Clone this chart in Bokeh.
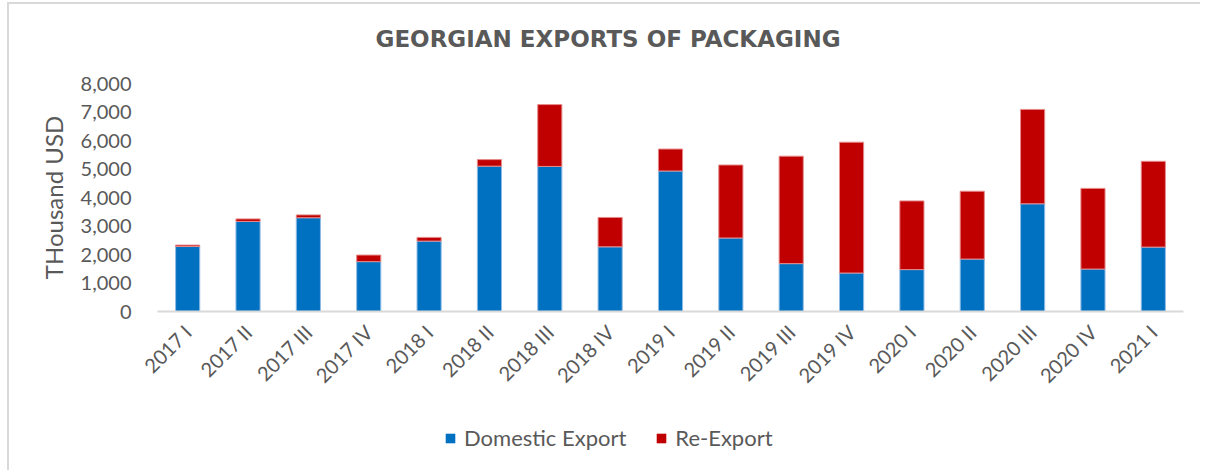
from bokeh.plotting import figure
from bokeh.layouts import column
from bokeh.models import ColumnDataSource, Legend, LegendItem, NumeralTickFormatter, FixedTicker, Title
from bokeh.embed import file_html
from bokeh.resources import INLINE
import math

quarters = ["2017 I", "2017 II", "2017 III", "2017 IV", "2018 I", "2018 II", "2018 III", "2018 IV",
            "2019 I", "2019 II", "2019 III", "2019 IV", "2020 I", "2020 II", "2020 III", "2020 IV", "2021 I"]
domestic = [2280, 3160, 3290, 1750, 2470, 5100, 5090, 2270, 4930, 2580, 1680, 1350, 1470, 1840, 3780, 1490, 2260]
reexport = [50, 90, 100, 230, 130, 230, 2170, 1030, 770, 2560, 3770, 4590, 2410, 2380, 3310, 2830, 3010]
series_labels = ["Domestic Export", "Re-Export"]
series_colors = ["#0070C0", "#C00000"]
edge_colors = ["#8fbce6", "#e68a8a"]

src = ColumnDataSource(dict(q=quarters, domestic=domestic, reexport=reexport))

FONT = "Lato"
GREY = "#595959"

p = figure(x_range=quarters, y_range=(0, 8000), width=1191, height=401,
           output_backend="svg", toolbar_location=None,
           min_border_left=148, min_border_right=17, min_border_top=79, min_border_bottom=94)

r = p.vbar_stack(["domestic", "reexport"], x="q", width=0.4, source=src,
                 color=series_colors, line_color=edge_colors, line_width=1)

# title: a blank spacer title sits next to the frame, the real title above it
p.title = None
p.add_layout(Title(text=" ", text_font="DejaVu Sans", text_font_size="10px", standoff=14), "above")
p.add_layout(Title(text="GEORGIAN EXPORTS OF PACKAGING", align="left", offset=218,
                   vertical_align="bottom", standoff=10,
                   text_font="DejaVu Sans", text_font_size="23px", text_font_style="bold",
                   text_color=GREY), "above")

p.xgrid.grid_line_color = None
p.ygrid.grid_line_color = None
p.outline_line_color = None

p.yaxis.ticker = FixedTicker(ticks=list(range(0, 8001, 1000)))
p.yaxis.formatter = NumeralTickFormatter(format="0,0")
p.yaxis.axis_line_color = None
p.yaxis.major_tick_line_color = None
p.yaxis.minor_tick_line_color = None
p.yaxis.major_label_text_font = FONT
p.yaxis.major_label_text_font_size = "20px"
p.yaxis.major_label_text_color = GREY
p.yaxis.major_label_standoff = 20
p.yaxis.axis_label = "THousand USD"
p.yaxis.axis_label_text_font = FONT
p.yaxis.axis_label_text_font_size = "24px"
p.yaxis.axis_label_text_font_style = "normal"
p.yaxis.axis_label_text_color = GREY
p.yaxis.axis_label_standoff = 10

p.xaxis.axis_line_color = "#d9d9d9"
p.xaxis.axis_line_width = 2
p.xaxis.major_tick_line_color = None
p.xaxis.minor_tick_line_color = None
p.xaxis.major_label_orientation = math.pi / 4
p.xaxis.major_label_text_font = FONT
p.xaxis.major_label_text_font_size = "20px"
p.xaxis.major_label_text_color = GREY
p.xaxis.major_label_standoff = 11

# legend strip underneath the chart (zero-size proxy glyphs carry the key colours)
lg = figure(width=1191, height=65, x_range=(0, 1), y_range=(0, 1),
            output_backend="svg", toolbar_location=None,
            x_axis_type=None, y_axis_type=None,
            min_border_left=0, min_border_right=0, min_border_top=0, min_border_bottom=0)
lg.outline_line_color = None
lg.xgrid.grid_line_color = None
lg.ygrid.grid_line_color = None
key_renderers = [lg.vbar(x=[-1], top=[0], bottom=[0], width=0, fill_color=c, line_color=c, line_width=0)
                 for c in series_colors]

legend = Legend(items=[LegendItem(label=lab, renderers=[kr]) for lab, kr in zip(series_labels, key_renderers)],
                orientation="horizontal", location=(287, 19),
                label_text_font=FONT, label_text_font_size="22px", label_text_color=GREY,
                label_standoff=8, glyph_width=12, glyph_height=12, spacing=29,
                border_line_color=None, background_fill_alpha=0)
lg.add_layout(legend, "center")

layout = column(p, lg, spacing=0)
layout.styles = {"margin-left": "7px", "margin-top": "2px",
                 "border-left": "2px solid #d9d9d9", "border-top": "2px solid #d9d9d9"}

open("out.html", "w").write(file_html(layout, INLINE))
